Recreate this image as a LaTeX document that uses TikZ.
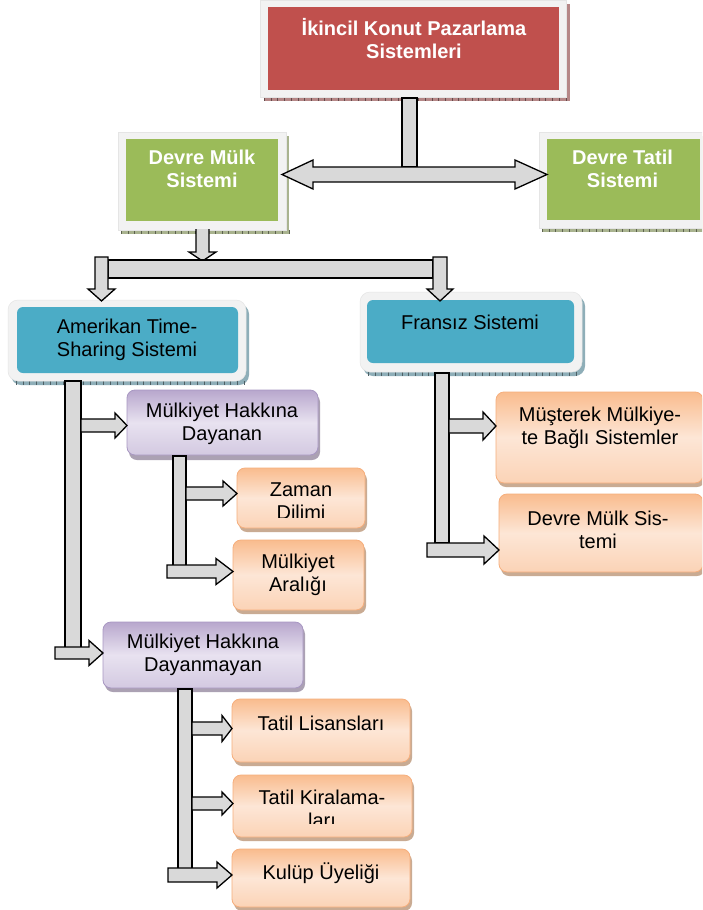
\documentclass[tikz,border=0pt]{standalone}
\usepackage{fontspec}
\setmainfont{Liberation Sans}
\usetikzlibrary{calc}
\definecolor{cred}{HTML}{C0504D}
\definecolor{cgreen}{HTML}{9BBB59}
\definecolor{cblue}{HTML}{4BACC6}
\definecolor{cframe}{HTML}{F2F2F2}
\definecolor{agray}{HTML}{D9D9D9}
\definecolor{oT}{HTML}{F9BC8E}
\definecolor{oM}{HTML}{FDE6D6}
\definecolor{oB}{HTML}{FBD3B6}
\definecolor{oD}{HTML}{F6AE7C}
\definecolor{pT}{HTML}{B8A7CD}
\definecolor{pM}{HTML}{E8E2F0}
\definecolor{pB}{HTML}{D3C9E1}
\definecolor{pD}{HTML}{A897C2}
\definecolor{shR}{HTML}{B58787}
\definecolor{shG}{HTML}{A9B38F}
\definecolor{shB}{HTML}{8EAEB8}
\definecolor{shO}{HTML}{C9AB93}
\definecolor{shP}{HTML}{ABA1B3}
\newcommand\rarr[6]{%
  \coordinate (T) at (#2.west |- 0,#3);
  \draw[blk] (#1,#3-#4) -- ($(T)+(-#6,-#4)$) -- ($(T)+(-#6,-#5)$) -- (T)
    -- ($(T)+(-#6,#5)$) -- ($(T)+(-#6,#4)$) -- (#1,#3+#4) -- cycle;}
\newcommand\shadstrip[4]{% x1 x2 y color
  \draw[#4!55!black, line width=3.5pt, dash pattern=on 0.7pt off 6pt] (#1,#3) -- (#2,#3);}
\begin{document}
\begin{tikzpicture}[x=1pt,y=-1pt,
  blk/.style={fill=agray, draw=black, line width=1.3pt, line join=miter},
  sq/.style={draw=none, inner sep=0, outer sep=0, anchor=north west},
  rbox/.style={sq, fill=cred},
  gbox/.style={sq, fill=cgreen},
  bbox/.style={sq, fill=cblue, rounded corners=6pt},
  obox/.style={sq, draw=oD, line width=0.8pt, rounded corners=8pt,
    top color=oT, bottom color=oB, middle color=oM},
  pbox/.style={sq, draw=pD, line width=0.8pt, rounded corners=8pt,
    top color=pT, bottom color=pB, middle color=pM},
  fr/.style={fill=cframe, draw=black!10, line width=0.5pt},
  wtxt/.style={text=white, font=\bfseries\fontsize{20}{23}\selectfont, align=center, inner sep=0},
  ktxt/.style={text=black, font=\fontsize{20}{23}\selectfont, align=center, inner sep=0}]
\useasboundingbox (0,0) rectangle (702,910);
\clip (0,0) rectangle (702,910);
\fill[white] (0,0) rectangle (702,910);

% ---------- shadows and frames ----------
\fill[shR] (264,4) rectangle (570,101);
\shadstrip{264}{570}{99}{shR}
\draw[fr] (260,0) rectangle (566,97);

\fill[shG] (121,136) rectangle (289,234);
\shadstrip{121}{289}{232}{shG}
\draw[fr] (118,132) rectangle (286,230);

\fill[shG] (542,136) rectangle (712,232);
\shadstrip{542}{712}{230}{shG}
\draw[fr] (539,132) rectangle (708,228);

\fill[shB, rounded corners=10pt] (11,304) rectangle (249,385);
\shadstrip{16}{244}{383}{shB}
\draw[fr, rounded corners=10pt] (8,300) rectangle (246,381);

\fill[shB, rounded corners=10pt] (363,296) rectangle (585,376);
\shadstrip{368}{580}{374}{shB}
\draw[fr, rounded corners=10pt] (360,292) rectangle (582,372);

\fill[shP, rounded corners=8pt] (129,394) rectangle (320,460);
\fill[shO, rounded corners=8pt] (239,472) rectangle (367,532);
\fill[shO, rounded corners=8pt] (235,544) rectangle (366,614);
\fill[shP, rounded corners=8pt] (105,626) rectangle (305,692);
\fill[shO, rounded corners=8pt] (234,703) rectangle (412,766);
\fill[shO, rounded corners=8pt] (235,779) rectangle (414,841);
\fill[shO, rounded corners=8pt] (234,853) rectangle (412,911);
\fill[shO, rounded corners=8pt] (498,396) rectangle (705,487);
\fill[shO, rounded corners=8pt] (501,498) rectangle (705,576);

% ---------- boxes ----------
\node[rbox, minimum width=291, minimum height=83] (top) at (268,7) {};
\node[gbox, minimum width=152, minimum height=82] (gL) at (126,139) {};
\node[gbox, minimum width=153, minimum height=81] (gR) at (547,139) {};
\node[bbox, minimum width=221, minimum height=66] (am) at (17,307) {};
\node[bbox, minimum width=207, minimum height=63] (fs) at (367,300) {};
\node[pbox, minimum width=191, minimum height=65] (mhd) at (127,390) {};
\node[obox, minimum width=128, minimum height=60] (zd) at (237,468) {};
\node[obox, minimum width=131, minimum height=70] (ma) at (233,540) {};
\node[pbox, minimum width=200, minimum height=66] (mhdy) at (103,622) {};
\node[obox, minimum width=178, minimum height=63] (tl) at (232,699) {};
\node[obox, minimum width=179, minimum height=62] (tk) at (233,775) {};
\node[obox, minimum width=178, minimum height=58] (ku) at (232,849) {};
\node[obox, minimum width=207, minimum height=91] (ms) at (496,392) {};
\node[obox, minimum width=204, minimum height=78] (dms) at (499,494) {};

% ---------- texts ----------
\node[wtxt] (ttop) at (414,38.5) {İkincil Konut Pazarlama\\Sistemleri};
\node[wtxt] (tgL) at (202,169) {Devre Mülk\\Sistemi};
\node[wtxt] (tgR) at (622.5,169) {Devre Tatil\\Sistemi};
\node[ktxt] (tam) at (127,340) {Amerikan Time-\\Sharing Sistemi};
\node[ktxt] (tfs) at (470,322) {Fransız Sistemi};
\begin{scope}
\clip (127,390) rectangle (318,444);
\node[ktxt] (tmhd) at (222,424) {Mülkiyet Hakkına\\Dayanan};
\end{scope}
\begin{scope}
\clip (237,468) rectangle (365,517);
\node[ktxt] (tzd) at (301,501) {Zaman\\Dilimi};
\end{scope}
\node[ktxt] (tma) at (298,575) {Mülkiyet\\Aralığı};
\node[ktxt] (tmhdy) at (203,655) {Mülkiyet Hakkına\\Dayanmayan};
\node[ktxt] (ttl) at (321,723) {Tatil Lisansları};
\begin{scope}
\clip (233,775) rectangle (412,823);
\node[ktxt] (ttk) at (322,809) {Tatil Kiralama-\\ları};
\end{scope}
\node[ktxt] (tku) at (321,873) {Kulüp Üyeliği};
\node[ktxt] (tms) at (600,427.5) {Müşterek Mülkiye-\\te Bağlı Sistemler};
\node[ktxt] (tdms) at (598,530) {Devre Mülk Sis-\\temi};

% ---------- connectors ----------
% top stem and double arrow
\draw[blk] (402,98) rectangle (417,167);
\coordinate (dl) at ($(gL.east |- 0,174.5)+(4,0)$);
\coordinate (dr) at (gR.west |- 0,174.5);
\draw[blk] (dl) -- ++(31,-14.5) -- ++(0,7) -- ($(dr)+(-32,-7.5)$) -- ++(0,-7) -- (dr)
  -- ++(-32,14.5) -- ++(0,-7) -- ($(dl)+(31,7.5)$) -- ++(0,7) -- cycle;
% down from Devre Mulk Sistemi
\fill[agray] (196,229) -- (196,252) -- (189,252) -- (202.5,261) -- (216,252) -- (209,252) -- (209,229) -- cycle;
\draw[blk, fill=none] (196,229) -- (196,252) -- (189,252) -- (202.5,261) -- (216,252) -- (209,252) -- (209,229);
% bar and two down arrows
\draw[blk] (108,260) rectangle (433,278);
\draw[blk] (95,257) -- (95,289) -- (88,289) -- (101.5,301) -- (115,289) -- (108,289) -- (108,257) -- cycle;
\draw[blk] (433,257) -- (433,289) -- (427,289) -- (440,301) -- (453,289) -- (447,289) -- (447,257) -- cycle;
% Amerikan branch
\draw[blk] (65,381) rectangle (81,648);
\rarr{81}{mhd}{425.5}{6.5}{12.5}{12}
\rarr{55}{mhdy}{653}{6}{12.5}{14}
\draw[blk] (173,456) rectangle (186,566);
\rarr{186}{zd}{493.5}{6.5}{12.5}{14}
\rarr{167}{ma}{571.5}{6.5}{13}{17}
\draw[blk] (178,689) rectangle (192,869);
\rarr{192}{tl}{728.5}{6.5}{13}{10}
\rarr{192}{tk}{803.5}{6.5}{11.5}{11}
\rarr{168}{ku}{875}{7}{13}{15}
% Fransiz branch
\draw[blk] (435,373) rectangle (449,543);
\rarr{449}{ms}{426}{7}{14}{13}
\rarr{427}{dms}{550}{7}{14}{15}
\end{tikzpicture}
\end{document}
